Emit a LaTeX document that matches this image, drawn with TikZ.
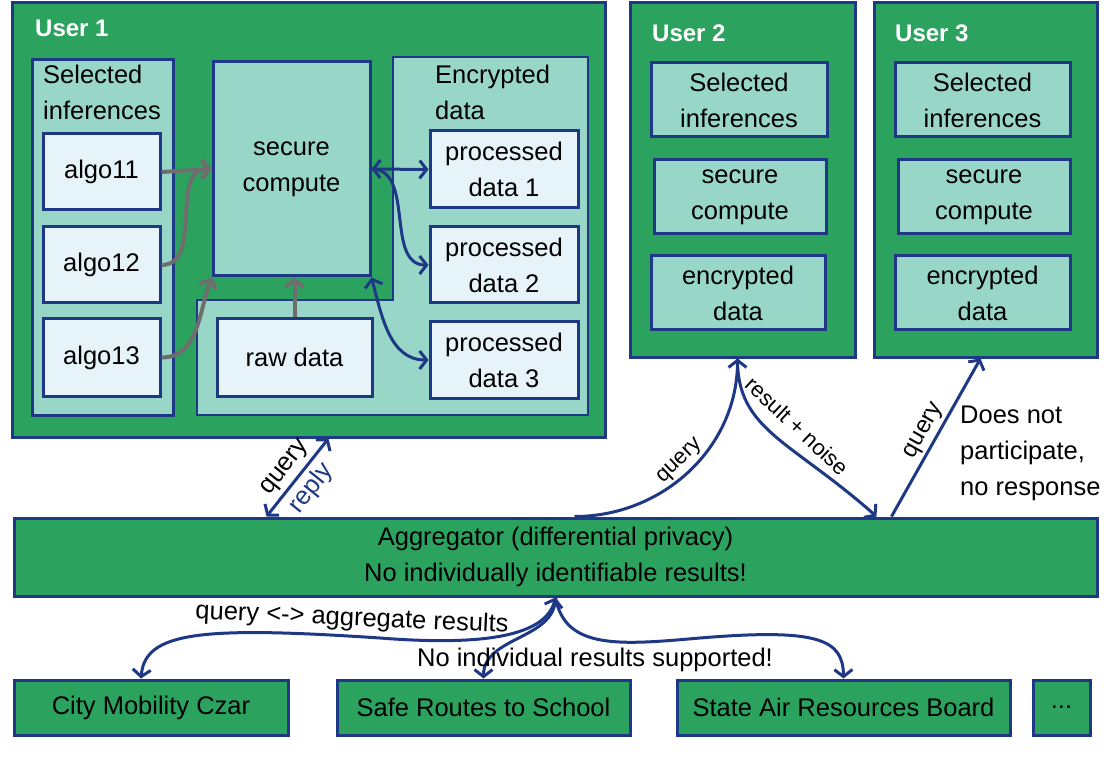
\documentclass[tikz,border=0pt]{standalone}
\usepackage{fontspec}
\setmainfont{Liberation Sans}
\usepackage{tikz}
\usetikzlibrary{positioning}
\usetikzlibrary{calc}
\usetikzlibrary{arrows.meta}

\definecolor{boxgreen}{RGB}{44,162,95}
\definecolor{boxblue}{RGB}{31,56,134}
\definecolor{panelteal}{RGB}{152,215,200}
\definecolor{itemfill}{RGB}{230,244,250}
\definecolor{arrowgrey}{RGB}{110,110,110}

\begin{document}
\begin{tikzpicture}[x=1pt, y=-1pt, font=\fontsize{25.5}{36}\selectfont,
    >={Straight Barb[length=7pt,width=18pt]}]
  % \draw (0,0) grid (1104,762);
  \useasboundingbox (0,0) rectangle (1104,762);

  \tikzset{box common/.style={draw=boxblue, line width=3pt, anchor=center, inner sep=0pt, align=center}}
  \tikzset{user node/.style={box common, fill=boxgreen}}
  \tikzset{panel node/.style={box common, fill=panelteal}}
  \tikzset{item node/.style={box common, fill=itemfill}}
  \tikzset{party node/.style={box common, fill=boxgreen, minimum height=55}}
  \tikzset{title text/.style={anchor=west, inner sep=0pt, text=white, font=\fontsize{24}{28}\selectfont\bfseries}}
  \tikzset{label text/.style={anchor=west, inner sep=0pt, align=left}}
  \tikzset{small label/.style={inner sep=3pt, font=\fontsize{22}{26}\selectfont}}
  \tikzset{grey arrow/.style={->, draw=arrowgrey, line width=4pt}}
  \tikzset{blue arrow/.style={draw=boxblue, line width=3pt}}

  % user 1
  \node[user node, minimum width=593, minimum height=434] (user1) at (308.5,220) {};
  \node[title text] (u1title) at (35,28) {User 1};
  \node[panel node, minimum width=141, minimum height=355] (sel1) at (102.5,237.5) {};
  \node[label text] (sel1text) at (43,92.5) {Selected\\inferences};
  \node[item node, minimum width=117, minimum height=76] (algo11) at (101.5,172) {algo11};
  \node[item node, minimum width=117, minimum height=76] (algo12) at (101.5,265) {algo12};
  \node[item node, minimum width=117, minimum height=78] (algo13) at (101.5,357.5) {algo13};

  % encrypted data and raw data area
  \draw[draw=boxblue, line width=2.5pt, fill=panelteal]
    (393,57) -- (588,57) -- (588,415) -- (197,415) -- (197,300) -- (393,300) -- cycle;
  \node[label text] (enctext) at (435,92.5) {Encrypted\\data};

  \node[panel node, minimum width=157, minimum height=214] (sc1) at (291.5,169) {secure\\compute};
  \node[item node, minimum width=155, minimum height=77] (raw) at (294.5,357.5) {raw data};
  \node[item node, minimum width=148, minimum height=77] (pd1) at (504,169.5) {processed\\data 1};
  \node[item node, minimum width=148, minimum height=76] (pd2) at (504,265) {processed\\data 2};
  \node[item node, minimum width=148, minimum height=76] (pd3) at (504,360) {processed\\data 3};

  \draw[grey arrow] (algo11.east) -- (sc1.west);
  \draw[grey arrow] (algo12.east) to[out=0,in=180] (sc1.west);
  \draw[grey arrow] (algo13.east) to[out=0,in=250] (sc1.south west);
  \draw[grey arrow] (raw.north) -- (raw.north |- sc1.south);

  \draw[blue arrow, <->] (sc1.east) -- (pd1.west);
  \draw[blue arrow, ->] (sc1.east) to[out=0,in=180] (pd2.west);
  \draw[blue arrow, <->] (sc1.south east) to[out=-75,in=180] (pd3.west);

  % user 2
  \node[user node, minimum width=225, minimum height=354] (user2) at (742.5,180) {};
  \node[title text] (u2title) at (652,33) {User 2};
  \node[panel node, minimum width=176, minimum height=74] (sel2) at (739,100) {Selected\\inferences};
  \node[panel node, minimum width=172, minimum height=74] (sc2) at (740,197) {secure\\compute};
  \node[panel node, minimum width=174, minimum height=74] (enc2) at (738,293) {encrypted\\data};

  % user 3
  \node[user node, minimum width=223, minimum height=354] (user3) at (985.5,180) {};
  \node[title text] (u3title) at (895,33) {User 3};
  \node[panel node, minimum width=175, minimum height=74] (sel3) at (982.5,100) {Selected\\inferences};
  \node[panel node, minimum width=172, minimum height=74] (sc3) at (984,197) {secure\\compute};
  \node[panel node, minimum width=175, minimum height=74] (enc3) at (982.5,293) {encrypted\\data};

  % aggregator
  \node[user node, minimum width=1083, minimum height=78] (agg) at (555.5,557)
    {Aggregator (differential privacy)\\No individually identifiable results!};

  \node[label text] (nopart) at (960,453) {Does not\\participate,\\no response};

  \draw[blue arrow, <->] ([xshift=254pt]agg.north west) -- ([xshift=318pt]user1.south west)
    node[midway, above, sloped, inner sep=4pt] {query}
    node[midway, below, sloped, inner sep=4pt, text=boxblue] {reply};
  \draw[blue arrow, ->] ([xshift=562pt]agg.north west) to[out=0,in=-90]
    node[pos=0.5, above, sloped, small label] {query} ([xshift=-5pt]user2.south);
  \draw[blue arrow, ->] ([xshift=-5pt]user2.south) .. controls (737,430) and (790,440) .. ([xshift=864pt]agg.north west);
  \node[small label, rotate=-43] (noise) at (797,426) {result + noise};
  \draw[blue arrow, ->] ([xshift=879pt]agg.north west) -- ([xshift=-5pt]user3.south)
    node[midway, above, sloped, inner sep=3pt, font=\fontsize{24}{28}\selectfont] {query};

  % consumers of aggregate results
  \node[party node, minimum width=274] (city) at (151,707.5) {City Mobility Czar};
  \node[party node, minimum width=293] (safe) at (483.5,707.5) {Safe Routes to School};
  \node[party node, minimum width=333] (state) at (843.5,707.5) {State Air Resources Board};
  \node[party node, minimum width=57] (more) at (1061.5,707.5) {...};

  \draw[blue arrow, <->] (agg.south) .. controls (545,640) and (470,645) .. (380,638)
    .. controls (200,626) and (145,632) .. ([xshift=-10pt]city.north);
  \draw[blue arrow, ->] (agg.south) to[out=-90,in=90] (safe.north);
  \draw[blue arrow, ->] (agg.south) .. controls (565,650) and (620,645) .. (700,638)
    .. controls (820,628) and (843,640) .. (state.north);

  \node[rotate=-2.5, inner sep=0pt] (aggtext) at (352,619) {query <-> aggregate results};
  \node[inner sep=0pt] (noindiv) at (595,660) {No individual results supported!};
\end{tikzpicture}
\end{document}
